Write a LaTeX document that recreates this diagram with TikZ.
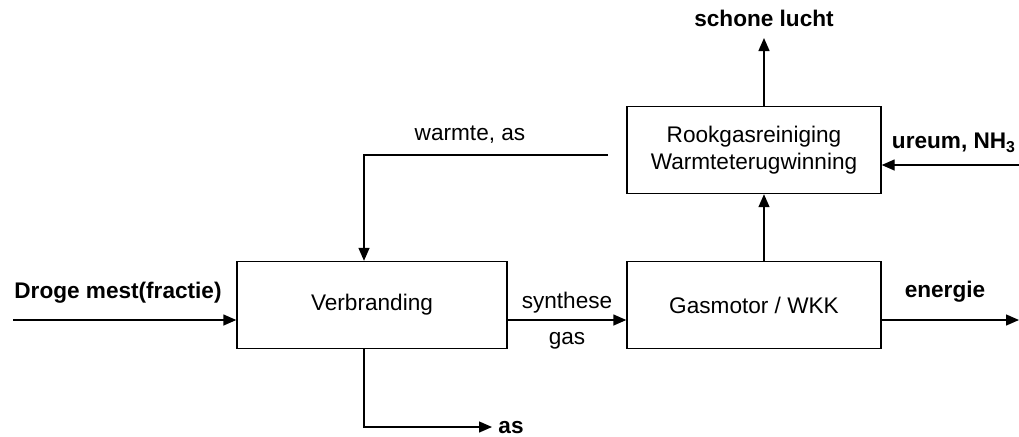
\documentclass[tikz,border=0pt]{standalone}
\usepackage{fontspec}
\setmainfont{Liberation Sans}
\usetikzlibrary{arrows.meta}

\begin{document}
\begin{tikzpicture}[
  x=0.5pt, y=-0.5pt,
  every node/.style={font=\fontsize{11.3}{13.5}\selectfont},
  proces/.style={draw, line width=0.7pt, minimum width=127pt, minimum height=43.5pt, align=center},
  stroom/.style={line width=0.7pt, -{Triangle[length=6.5pt,width=5.5pt]}},
  stroomtekst/.style={font=\fontsize{11.3}{13.5}\selectfont\bfseries}
]
  \useasboundingbox (0,0) rectangle (1019,436);

  % Process boxes
  \node[proces, minimum width=135pt] (verbranding) at (372,305) {Verbranding};
  \node[proces] (gasmotor) at (754,305) {Gasmotor / WKK};
  \node[proces] (rookgas) at (754,150) {Rookgasreiniging\\Warmteterugwinning};

  % Free ends
  \coordinate (in) at (13,320);
  \coordinate (uit) at (1019,320);
  \coordinate (kolom) at (764,0);
  \coordinate (lucht) at (764,38);
  \coordinate (ureumin) at (1019,165);
  \coordinate (terug) at (608,155);
  \coordinate (neer) at (364,155);
  \coordinate (asuit) at (492,427);

  % Flows
  \draw[stroom] (in) -- (in -| verbranding.west);
  \draw[stroom] (in -| verbranding.east) -- (in -| gasmotor.west);
  \draw[stroom] (uit -| gasmotor.east) -- (uit);
  \draw[stroom] (gasmotor.north -| kolom) -- (rookgas.south -| kolom);
  \draw[stroom] (rookgas.north -| kolom) -- (lucht);
  \draw[stroom] (ureumin) -- (ureumin -| rookgas.east);
  \draw[stroom] (terug) -- (neer) -- (neer |- verbranding.north);
  \draw[stroom] (neer |- verbranding.south) |- (asuit);

  % Labels
  \node[stroomtekst] (mest) at (118,293) {Droge mest(fractie)};
  \node[align=center] (synthese) at (567,321) {synthese\\[4.5pt]gas};
  \node[stroomtekst] (energie) at (945,292) {energie};
  \node[stroomtekst] (schoon) at (764,18) {schone lucht};
  \node[stroomtekst] (ureum) at (954,143) {ureum, NH\textsubscript{3}};
  \node (warmte) at (470,135) {warmte, as};
  \node[stroomtekst] (as) at (511,428) {as};
\end{tikzpicture}
\end{document}
